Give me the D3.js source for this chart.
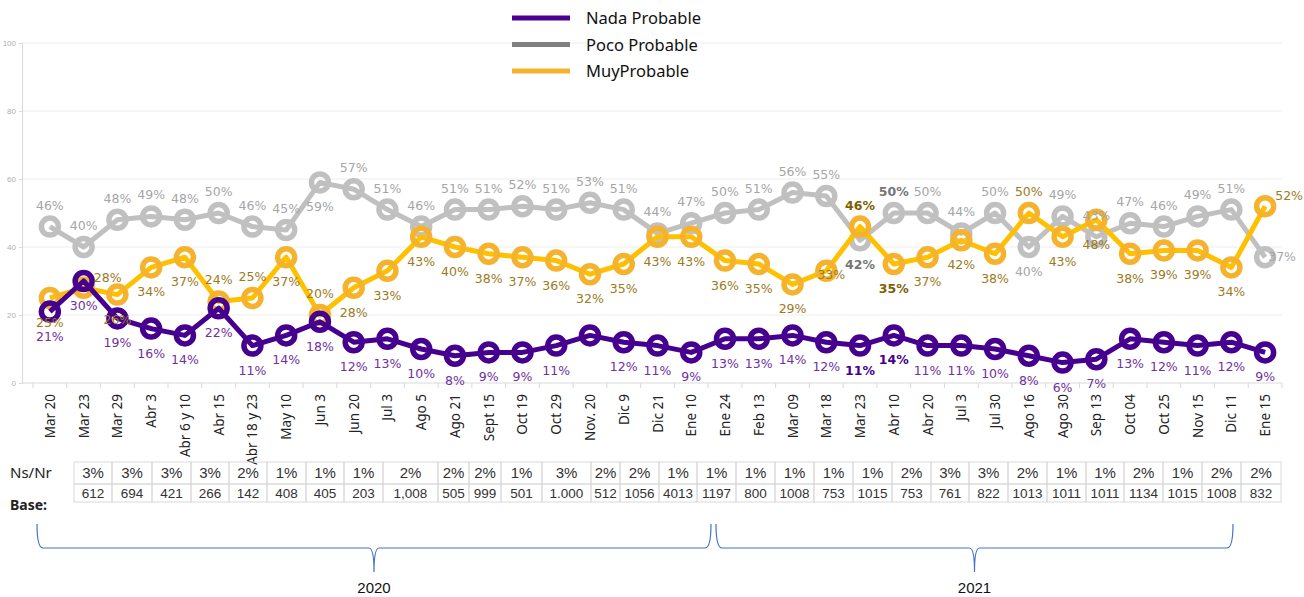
<!DOCTYPE html>
<html>
<head>
<meta charset="utf-8">
<script src="https://cdn.jsdelivr.net/npm/d3@7"></script>
<style>
  body { margin: 0; background: #fff; }
  svg { display: block; }
</style>
</head>
<body>
<svg id="chart" width="1304" height="597"></svg>
<script>
// categories (survey dates)
var categories = ["Mar 20", "Mar 23", "Mar 29", "Abr 3", "Abr 6 y 10", "Abr 15", "Abr 18 y 23", "May 10",
  "Jun 3", "Jun 20", "Jul 3", "Ago 5", "Ago 21", "Sept 15", "Oct 19", "Oct 29", "Nov. 20", "Dic 9",
  "Dic 21", "Ene 10", "Ene 24", "Feb 13", "Mar 09", "Mar 18", "Mar 23 ", "Abr 10", "Abr 20", "Jul 3 ",
  "Jul 30", "Ago 16", "Ago 30", "Sep 13", "Oct 04", "Oct 25", "Nov 15", "Dic 11", "Ene 15"]

var nada = [21, 30, 19, 16, 14, 22, 11, 14, 18, 12, 13, 10, 8, 9, 9, 11, 14, 12, 11, 9,
  13, 13, 14, 12, 11, 14, 11, 11, 10, 8, 6, 7, 13, 12, 11, 12, 9]
var poco = [46, 40, 48, 49, 48, 50, 46, 45, 59, 57, 51, 46, 51, 51, 52, 51, 53, 51, 44, 47,
  50, 51, 56, 55, 42, 50, 50, 44, 50, 40, 49, 43, 47, 46, 49, 51, 37]
var muy = [25, 28, 26, 34, 37, 24, 25, 37, 20, 28, 33, 43, 40, 38, 37, 36, 32, 35, 43, 43,
  36, 35, 29, 33, 46, 35, 37, 42, 38, 50, 43, 48, 38, 39, 39, 34, 52]

var yTicks = [0, 20, 40, 60, 80, 100]

// table rows
var nsnr = ["3%", "3%", "3%", "3%", "2%", "1%", "1%", "1%", "2%", "2%", "2%", "1%", "3%", "2%", "2%", "1%",
  "1%", "1%", "1%", "1%", "1%", "2%", "3%", "3%", "2%", "1%", "1%", "2%", "1%", "2%", "2%"]
var base = ["612", "694", "421", "266", "142", "408", "405", "203", "1,008", "505", "999", "501", "1.000",
  "512", "1056", "4013", "1197", "800", "1008", "753", "1015", "753", "761", "822", "1013", "1011",
  "1011", "1134", "1015", "1008", "832"]

var years = ["2020", "2021"]

// layout only: table column edges and brace spans (px)
var colEdges = [74, 112, 152, 191, 229, 267, 306, 344, 383, 438, 469, 501, 542, 591, 620, 659, 697, 736,
  775, 814, 853, 892, 931, 969, 1008, 1047, 1086, 1124, 1163, 1202, 1241, 1281]
var braces = [[37, 711], [716, 1233]]

// label placement: default per series, overrides by index
var series = [
  {name: "Nada Probable", values: nada, line: "#46008F", legend: "#4B0091", label: "#7030A0", bold: "#46008F",
    pos: "b", over: {}, boldIdx: [24, 25], hide: [16]},
  {name: "Poco Probable", values: poco, line: "#C0C0C0", legend: "#808080", label: "#A6A6A6", bold: "#767676",
    pos: "t", over: {8: "b", 24: "b", 29: "b", 36: "r"}, boldIdx: [24, 25], hide: []},
  {name: "MuyProbable", values: muy, line: "#FFC000", legend: "#F5B22C", label: "#9C7A22", bold: "#7F6000",
    marker: "#F5B22C",
    pos: "b", over: {1: "tr", 5: "t", 6: "t", 8: "t", 23: "c", 24: "t", 29: "t", 36: "tr"}, boldIdx: [24, 25], hide: []}
]

var svg = d3.select("#chart")

var x = d3.scaleBand().domain(categories).range([33, 1282])
var y = d3.scaleLinear().domain([0, 100]).range([383, 43])
function cx(d) { return x(d) + x.bandwidth() / 2 }

// gridlines
svg.append("g").selectAll("line")
  .data(yTicks.slice(1))
  .enter().append("line")
  .attr("x1", 22).attr("x2", 1282)
  .attr("y1", function(d) { return y(d) }).attr("y2", function(d) { return y(d) })
  .attr("stroke", "#EDEDED").attr("stroke-width", 1)

// y axis
var yAxis = svg.append("g").attr("transform", "translate(22,0)")
  .call(d3.axisLeft(y).tickValues(yTicks).tickSize(3))
yAxis.select(".domain").attr("stroke", "#D9D9D9")
yAxis.selectAll(".tick line").attr("stroke", "#D9D9D9")
yAxis.selectAll("text").attr("fill", "#B0B0B0").style("font", "8px 'Liberation Sans', sans-serif")

// x axis: ticks between categories
var xa = svg.append("g")
xa.append("line").attr("x1", 22).attr("x2", 1282).attr("y1", y(0)).attr("y2", y(0))
  .attr("stroke", "#D9D9D9")
xa.selectAll(".tk").data(categories.concat(["_end"]))
  .enter().append("line").attr("class", "tk")
  .attr("x1", function(d, i) { return x.range()[0] + i * x.step() })
  .attr("x2", function(d, i) { return x.range()[0] + i * x.step() })
  .attr("y1", y(0)).attr("y2", y(0) + 5)
  .attr("stroke", "#D9D9D9")
xa.selectAll("text").data(categories)
  .enter().append("text")
  .attr("transform", function(d) { return "translate(" + (cx(d) + 5) + ",394) rotate(-90)" })
  .attr("text-anchor", "end")
  .style("font", "13.5px 'Noto Sans', sans-serif")
  .attr("fill", "#222")
  .text(function(d) { return d.trim() })

// lines and markers
var line = d3.line()
  .x(function(d, i) { return cx(categories[i]) })
  .y(function(d) { return y(d) })

var order = [1, 2, 0]
order.forEach(function(si) {
  var s = series[si]
  var g = svg.append("g")
  g.append("path").datum(s.values)
    .attr("d", line).attr("fill", "none")
    .attr("stroke", s.line).attr("stroke-width", 5).attr("stroke-linejoin", "round")
  g.selectAll("circle").data(s.values)
    .enter().append("circle")
    .attr("cx", function(d, i) { return cx(categories[i]) })
    .attr("cy", function(d) { return y(d) })
    .attr("r", 8.5)
    .attr("fill", "none")
    .attr("stroke", s.marker || s.line).attr("stroke-width", 5.5)
})

// data labels
var offs = {t: [0, -17], b: [0, 29], r: [17, 4], tr: [24, -6], c: [5, 8]}
series.forEach(function(s) {
  var lg = svg.append("g")
  s.values.forEach(function(v, i) {
    if (s.hide.indexOf(i) >= 0) return
    var o = offs[s.over[i] || s.pos]
    var isBold = s.boldIdx.indexOf(i) >= 0
    lg.append("text")
      .attr("x", cx(categories[i]) + o[0])
      .attr("y", y(v) + o[1])
      .attr("text-anchor", "middle")
      .attr("fill", isBold ? s.bold : s.label)
      .style("font", (isBold ? "bold " : "") + "12.5px 'DejaVu Sans', sans-serif")
      .text(v + "%")
  })
})

// legend
var leg = svg.append("g")
series.forEach(function(s, i) {
  leg.append("line").attr("x1", 512).attr("x2", 570)
    .attr("y1", 18 + i * 26.5).attr("y2", 18 + i * 26.5)
    .attr("stroke", s.legend).attr("stroke-width", 5)
  leg.append("text").attr("x", 586).attr("y", 18 + i * 26.5 + 6)
    .style("font", "16.5px 'Noto Sans', sans-serif").attr("fill", "#111")
    .text(s.name)
})

// table
var tb = svg.append("g")
tb.append("text").attr("x", 10).attr("y", 478).style("font", "15px 'Noto Sans', sans-serif")
  .attr("fill", "#222").text("Ns/Nr")
tb.append("text").attr("x", 10).attr("y", 510).style("font", "bold 14px 'Noto Sans', sans-serif")
  .attr("fill", "#222").text("Base:")
var rows = [{vals: nsnr, y0: 462, y1: 484, size: 15}, {vals: base, y0: 484, y1: 502, size: 13.5}]
rows.forEach(function(r) {
  r.vals.forEach(function(v, i) {
    var a = colEdges[i], b = colEdges[i + 1]
    tb.append("rect").attr("x", a).attr("y", r.y0).attr("width", b - a).attr("height", r.y1 - r.y0)
      .attr("fill", "none").attr("stroke", "#D9D9D9")
    tb.append("text").attr("x", (a + b) / 2).attr("y", (r.y0 + r.y1) / 2 + r.size * 0.36)
      .attr("text-anchor", "middle").style("font", r.size + "px 'Liberation Sans', sans-serif")
      .attr("fill", "#333").text(v)
  })
})

// year braces
var br = svg.append("g")
braces.forEach(function(b, i) {
  var x0 = b[0], x1 = b[1], tip = (x0 + x1) / 2
  var top = 524, mid = 548, bot = 572
  var p = "M" + x0 + "," + top + " Q" + x0 + "," + mid + " " + (x0 + 6) + "," + mid +
    " L" + (tip - 5) + "," + mid + " Q" + tip + "," + mid + " " + tip + "," + bot +
    " Q" + tip + "," + mid + " " + (tip + 5) + "," + mid +
    " L" + (x1 - 6) + "," + mid + " Q" + x1 + "," + mid + " " + x1 + "," + top
  br.append("path").attr("d", p).attr("fill", "none").attr("stroke", "#4472C4").attr("stroke-width", 1.2)
  br.append("text").attr("x", tip).attr("y", 588).attr("dy", "0.35em").attr("text-anchor", "middle")
    .style("font", "15px 'Liberation Sans', sans-serif").attr("fill", "#111").text(years[i])
})
</script>
</body>
</html>
